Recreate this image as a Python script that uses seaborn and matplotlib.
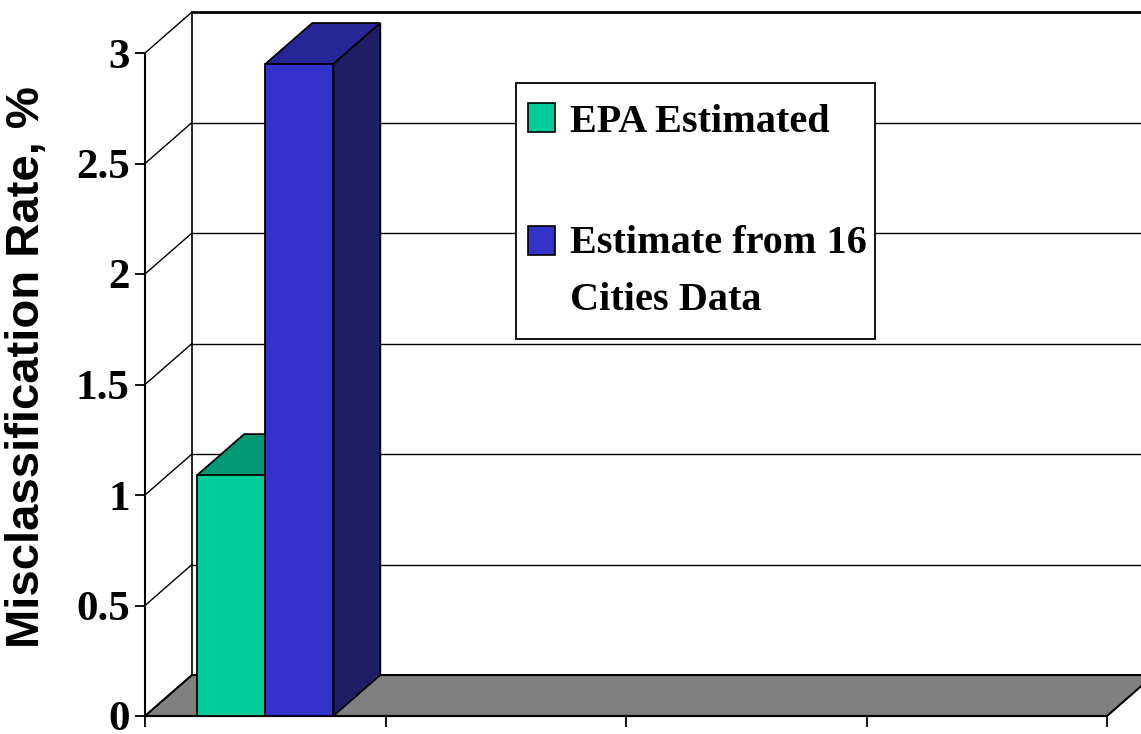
import matplotlib
matplotlib.use("Agg")
import matplotlib.pyplot as plt
from matplotlib.patches import Polygon, Rectangle
from matplotlib.legend_handler import HandlerPatch
import pandas as pd
import seaborn as sns

# ---- data ----
categories = ["Group 1", "Group 2", "Group 3", "Group 4"]
series = ["EPA Estimated", "Estimate from 16\nCities Data"]
series_category = ["Group 1", "Group 1"]
values = [1.09, 2.95]
yticks = [0, 0.5, 1, 1.5, 2, 2.5, 3]
ytick_labels = ["0", "0.5", "1", "1.5", "2", "2.5", "3"]
ylabel = "Misclassification Rate, %"

# face colours: front, top, side
front_colors = ["#00CC99", "#3333CC"]
top_colors = ["#009973", "#262699"]
side_colors = ["#00664D", "#1E1E64"]
floor_color = "#808080"

df = pd.DataFrame({"category": series_category, "series": series, "value": values})

sns.set_theme(style="white")
plt.rcParams["font.family"] = ["Liberation Serif", "DejaVu Serif"]
plt.rcParams.update({"text.color": "black", "axes.labelcolor": "black",
                     "xtick.color": "black", "ytick.color": "black",
                     "axes.edgecolor": "black"})

W, H = 1141, 734
fig = plt.figure(figsize=(W / 100, H / 100), dpi=100, facecolor="white")
# axes box = front plane of the 3-D plot
ax = fig.add_axes([145 / W, (H - 716) / H, 962 / W, 663 / H])
ax.set_facecolor("none")

sns.barplot(data=df, x="category", y="value", hue="series", order=categories,
            hue_order=series, palette=front_colors, saturation=1, width=0.566,
            dodge=True, edgecolor="black", linewidth=1.3, legend=False, ax=ax)

ax.set_xlim(-0.5, len(categories) - 0.5)
ax.set_ylim(0, 3)

# depth offset of the 3-D box, in data units
dx, dy = 47 / 240.5, 41 / 221
x0, x1 = -0.5, len(categories) - 0.5

# back wall grid lines and side-wall diagonals
for v in yticks:
    lw = 2.0 if v == yticks[-1] else 1.0
    ax.plot([x0 + dx, x1 + dx], [v + dy, v + dy], color="black", lw=lw,
            clip_on=False, zorder=0.5, solid_capstyle="butt")
    ax.plot([x0, x0 + dx], [v, v + dy], color="black", lw=1.0,
            clip_on=False, zorder=0.5)
ax.plot([x0 + dx, x0 + dx], [dy, yticks[-1] + dy], color="black", lw=1.2,
        clip_on=False, zorder=0.5)

# floor
floor = Polygon([(x0, 0), (x1, 0), (x1 + dx, dy), (x0 + dx, dy)], closed=True,
                facecolor=floor_color, edgecolor="black", lw=1.5,
                clip_on=False, zorder=1)
ax.add_patch(floor)

# extrude each bar: top and right-side faces
bars = [p for p in ax.patches if isinstance(p, Rectangle) and p.get_height() > 0]
for i, bar in enumerate(bars):
    z = 3 + i
    bx, bw, bh = bar.get_x(), bar.get_width(), bar.get_height()
    bar.set_zorder(z + 0.1)
    bar.set_clip_on(False)
    top = Polygon([(bx, bh), (bx + bw, bh), (bx + bw + dx, bh + dy), (bx + dx, bh + dy)],
                  closed=True, facecolor=top_colors[i], edgecolor="black", lw=1.3,
                  clip_on=False, zorder=z)
    side = Polygon([(bx + bw, 0), (bx + bw + dx, dy), (bx + bw + dx, bh + dy), (bx + bw, bh)],
                   closed=True, facecolor=side_colors[i], edgecolor="black", lw=1.3,
                   clip_on=False, zorder=z)
    ax.add_patch(top)
    ax.add_patch(side)

# axes styling
for s in ["top", "right"]:
    ax.spines[s].set_visible(False)
ax.spines["left"].set_linewidth(1.5)
ax.spines["bottom"].set_linewidth(1.5)
ax.spines["bottom"].set_zorder(2)

ax.set_yticks(yticks)
ax.set_yticklabels(ytick_labels, fontsize=31, fontweight="bold",
                   family=["Liberation Serif", "DejaVu Serif"])
ax.set_xticks([x0 + k for k in range(len(categories) + 1)])
ax.set_xticklabels([""] * (len(categories) + 1))
ax.tick_params(axis="y", direction="out", length=7, width=1.3, pad=4, left=True)
ax.tick_params(axis="x", direction="out", length=8, width=1.3, bottom=True)
ax.set_xlabel("")
ax.set_ylabel(ylabel, fontsize=34, fontweight="bold",
              family=["Liberation Sans", "DejaVu Sans"])
ax.yaxis.set_label_coords(-0.100, 0.526)


# legend: square swatches, the second one aligned with its first text line
def square_patch(xshift, yshift):
    def make(legend, orig_handle, xdescent, ydescent, width, height, fontsize):
        return Rectangle((-xdescent + xshift, -ydescent + yshift), width, height)
    return make


handles = [Rectangle((0, 0), 1, 1, facecolor=c, edgecolor="black", lw=1.2)
           for c in front_colors]
leg_fs = 29
leg = ax.legend(handles, series, loc="upper left", mode="expand",
                bbox_to_anchor=(516 / W, 1 - 83 / H, 359 / W, 0.0),
                bbox_transform=fig.transFigure,
                prop={"family": ["Liberation Serif", "DejaVu Serif"], "weight": "bold",
                      "size": leg_fs},
                frameon=True, fancybox=False, shadow=False, framealpha=1,
                edgecolor="black", borderpad=0.5, labelspacing=2.1,
                handlelength=0.67, handleheight=0.74, handletextpad=0.18,
                borderaxespad=0,
                handler_map={handles[0]: HandlerPatch(patch_func=square_patch(-6, 0)),
                             handles[1]: HandlerPatch(patch_func=square_patch(-6, 0.78 * leg_fs))})
leg.get_frame().set_linewidth(1.3)
leg.set_zorder(10)
for t in leg.get_texts():
    t.set_linespacing(1.7)

fig.savefig("out.png", dpi=100, facecolor="white")
